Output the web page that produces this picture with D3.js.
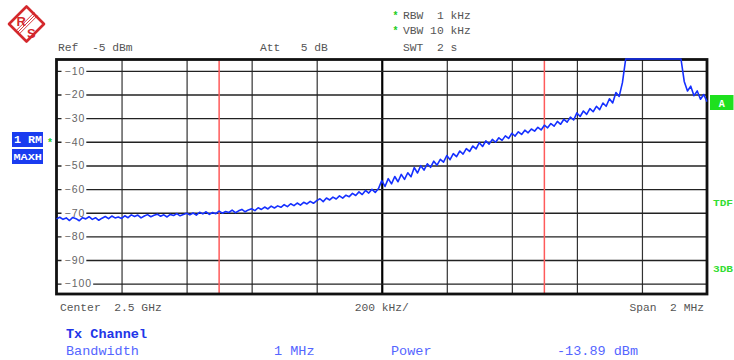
<!DOCTYPE html>
<html><head><meta charset="utf-8">
<script src="https://cdn.jsdelivr.net/npm/d3@7"></script>
<style>
body{margin:0;background:#fff}
svg{display:block}
text{white-space:pre}
</style>
</head><body>
<svg id="c" width="734" height="360"></svg>
<script>
// ---- data ----
const spanKHz = 2000;                     // span 2 MHz around centre
const levelTicks = [-10,-20,-30,-40,-50,-60,-70,-80,-90,-100];
const freqTicks = [-1000,-800,-600,-400,-200,0,200,400,600,800,1000]; // kHz offsets, 200 kHz/div
const channelEdges = [-500, 500];         // Tx channel 1 MHz bandwidth
const refLevel = -5, bottomLevel = -105;
// trace (dBm), equally spaced over the span, values above ref level are clipped
const traceDbm = [
 -72.6,-71.9,-72.8,-72.2,-73.3,-72.0,-72.5,-73.4,-72.1,-72.6,
 -71.7,-72.8,-72.1,-73.2,-72.3,-71.6,-72.5,-71.4,-72.2,-71.8,
 -72.4,-71.3,-72.1,-70.9,-71.6,-71.0,-72.2,-71.4,-70.8,-71.7,
 -71.1,-70.6,-71.5,-70.9,-71.8,-70.7,-71.2,-70.4,-71.3,-70.8,
 -70.2,-70.9,-70.1,-71.0,-69.8,-70.5,-69.6,-70.7,-69.9,-70.4,
 -69.3,-70.2,-69.5,-69.9,-68.9,-70.0,-69.2,-68.6,-69.6,-68.8,
 -68.3,-69.1,-67.9,-68.6,-67.6,-68.4,-67.2,-68.0,-67.1,-67.7,
 -66.6,-67.4,-66.2,-67.0,-65.9,-66.8,-65.6,-66.3,-65.2,-66.0,
 -64.9,-64.1,-65.3,-63.8,-64.6,-63.4,-64.2,-62.9,-63.8,-62.6,
 -63.2,-61.8,-62.7,-61.2,-62.3,-60.6,-61.7,-60.1,-61.4,-59.8,
 -56.4,-58.9,-55.6,-57.8,-54.7,-56.9,-53.8,-55.9,-53.1,-54.8,
 -50.9,-53.2,-50.1,-52.0,-49.3,-50.8,-48.2,-49.9,-47.4,-48.6,
 -45.8,-47.6,-45.0,-46.3,-43.9,-45.2,-42.9,-44.1,-41.8,-43.0,
 -40.4,-42.0,-39.6,-41.0,-39.0,-40.2,-38.3,-39.4,-37.5,-38.6,
 -36.4,-37.6,-35.8,-36.9,-35.1,-36.2,-34.6,-35.5,-33.9,-35.0,
 -33.0,-34.1,-32.3,-33.4,-31.4,-32.6,-30.5,-31.7,-29.6,-30.8,
 -27.8,-29.3,-27.0,-28.4,-26.0,-27.3,-25.0,-26.4,-23.6,-25.0,
 -21.8,-23.6,-19.2,-20.8,-15.0,1.5,2.8,1.9,3.1,2.2,
 2.7,1.6,3.0,2.1,2.9,1.8,2.6,3.2,2.0,2.5,
 1.7,2.4,2.0,-14.5,-18.5,-16.5,-20.5,-18.5,-22.0,-20.0,
 -23.0
];
const headerTexts = ["Ref  -5 dBm","Att   5 dB","SWT  2 s","RBW  1 kHz","VBW 10 kHz"];
const footerTexts = ["Center  2.5 GHz","200 kHz/","Span  2 MHz"];
const tableLabels = ["Bandwidth","1 MHz","Power","-13.89 dBm"];

// ---- drawing ----
const svg = d3.select("#c");
const X0 = 56.5, X1 = 707, Y0 = 59, Y1 = 294;
const x = d3.scaleLinear().domain([-spanKHz/2, spanKHz/2]).range([X0, X1]);
const y = d3.scaleLinear().domain([bottomLevel, refLevel]).range([295.5, Y0]).clamp(true);
const mono = "'Liberation Mono', 'DejaVu Sans Mono', monospace";

svg.append("rect").attr("width",734).attr("height",360).attr("fill","#fff");

// logo
const lg = svg.append("g");
lg.append("path").attr("d","M26.5,6.5 L44,24 L26.5,41.5 L9,24 Z")
  .attr("fill","#fff").attr("stroke","#d4282c").attr("stroke-width",2.6).attr("stroke-linejoin","round");
[-1.6,0,1.6].forEach(o=>{
  lg.append("line").attr("x1",17+o).attr("y1",33+o).attr("x2",36+o).attr("y2",14+o)
    .attr("stroke","#d4282c").attr("stroke-width",0.9);
});
lg.append("text").attr("x",16.5).attr("y",25.5).text("R").attr("font-family","'Liberation Sans',sans-serif")
  .attr("font-size",13).attr("font-weight","bold").attr("fill","#d4282c");
lg.append("text").attr("x",27).attr("y",38).text("S").attr("font-family","'Liberation Sans',sans-serif")
  .attr("font-size",13).attr("font-weight","bold").attr("fill","#d4282c");

// header
const hdr = svg.append("g").attr("font-family",mono).attr("font-size",11.3).attr("fill","#555");
hdr.append("text").attr("x",58).attr("y",51).text(headerTexts[0]);
hdr.append("text").attr("x",260).attr("y",51).text(headerTexts[1]);
hdr.append("text").attr("x",403).attr("y",51).text(headerTexts[2]);
hdr.append("text").attr("x",403).attr("y",19).text(headerTexts[3]);
hdr.append("text").attr("x",403).attr("y",34).text(headerTexts[4]);
[19,34].forEach(yy=>svg.append("text").attr("x",392.5).attr("y",yy).text("*")
  .attr("font-family",mono).attr("font-size",10).attr("font-weight","bold").attr("fill","#22cc22"));

// vertical grid
const gx = svg.append("g").attr("transform",`translate(0,${Y1})`)
  .call(d3.axisBottom(x).tickValues(freqTicks.slice(1,-1)).tickSize(-(Y1-Y0)).tickFormat(""));
gx.select(".domain").remove();
gx.selectAll(".tick line").attr("stroke",d=>d===0?"#000":"#333")
  .attr("stroke-width",d=>d===0?2.2:1.2);

// horizontal grid
const gy = svg.append("g").attr("transform",`translate(${X0},0)`)
  .call(d3.axisLeft(y).tickValues(levelTicks).tickSize(-(X1-X0)).tickFormat(""));
gy.select(".domain").remove();
gy.selectAll(".tick line").attr("stroke","#222").attr("stroke-width",1.4);

// level labels
const fmt = d3.format("d");
const lab = svg.append("g").selectAll("g").data(levelTicks).join("g")
  .attr("transform",d=>`translate(0,${y(d)})`);
const lt = lab.append("text").attr("x",64.5).attr("dy","0.36em").text(d=>fmt(d))
  .attr("font-family","'Liberation Sans',sans-serif").attr("font-size",10.5)
  .attr("letter-spacing",1).attr("fill","#666");
lab.insert("rect","text").attr("x",61.5).attr("y",-5.5).attr("height",11)
  .attr("width",function(d,i){return lt.nodes()[i].getComputedTextLength()+4;})
  .attr("fill","#fff");

// channel edges
svg.append("g").selectAll("line").data(channelEdges).join("line")
  .attr("x1",d=>x(d)).attr("x2",d=>x(d)).attr("y1",Y0).attr("y2",Y1)
  .attr("stroke","#ff5a5a").attr("stroke-width",1.5);

// frame
svg.append("rect").attr("x",X0).attr("y",Y0+0.5).attr("width",X1-X0).attr("height",Y1-Y0-0.5)
  .attr("fill","none").attr("stroke","#111").attr("stroke-width",2.8);

// trace
const n = traceDbm.length;
const line = d3.line().x((d,i)=>x(-spanKHz/2 + i*spanKHz/(n-1))).y(d=>y(d));
svg.append("path").datum(traceDbm).attr("d",line).attr("fill","none")
  .attr("stroke","#1530ff").attr("stroke-width",1.6).attr("stroke-linejoin","round");

// footer
const ft = svg.append("g").attr("font-family",mono).attr("font-size",11.3).attr("fill","#555");
ft.append("text").attr("x",60).attr("y",311).text(footerTexts[0]);
ft.append("text").attr("x",x(0)).attr("y",311).attr("text-anchor","middle").text(footerTexts[1]);
ft.append("text").attr("x",704).attr("y",311).attr("text-anchor","end").text(footerTexts[2]);

svg.append("text").attr("x",66).attr("y",338).text("Tx Channel").attr("font-family",mono)
  .attr("font-size",13.5).attr("font-weight","bold").attr("fill","#2236e8");
const tx = [66,274,391,557];
svg.append("g").selectAll("text").data(tableLabels).join("text")
  .attr("x",(d,i)=>tx[i]).attr("y",355).text(d=>d)
  .attr("font-family",mono).attr("font-size",13.5).attr("fill","#5566ff");

// side annotations
svg.append("rect").attr("x",12).attr("y",132).attr("width",31).attr("height",15).attr("fill","#1a3cf0");
svg.append("text").attr("x",14).attr("y",143).text("1 RM").attr("font-family",mono)
  .attr("font-size",10).attr("font-weight","bold").attr("fill","#fff").attr("textLength",28).attr("lengthAdjust","spacingAndGlyphs");
svg.append("rect").attr("x",12).attr("y",149).attr("width",31).attr("height",15).attr("fill","#1a3cf0");
svg.append("text").attr("x",13.5).attr("y",160).text("MAXH").attr("font-family",mono)
  .attr("font-size",9.5).attr("font-weight","bold").attr("fill","#fff").attr("textLength",28.5).attr("lengthAdjust","spacingAndGlyphs");
svg.append("text").attr("x",47).attr("y",146).text("*").attr("font-family",mono)
  .attr("font-size",10).attr("font-weight","bold").attr("fill","#22cc22");

svg.append("rect").attr("x",710).attr("y",95).attr("width",23.5).attr("height",15).attr("fill","#1ee01e");
svg.append("text").attr("x",721.8).attr("y",106.5).attr("text-anchor","middle").text("A")
  .attr("font-family",mono).attr("font-size",10).attr("font-weight","bold").attr("fill","#fff");
svg.append("text").attr("x",713).attr("y",205.5).text("TDF").attr("font-family",mono)
  .attr("font-size",8.5).attr("font-weight","bold").attr("fill","#33dd33").attr("textLength",20).attr("lengthAdjust","spacingAndGlyphs");
svg.append("text").attr("x",713).attr("y",271.5).text("3DB").attr("font-family",mono)
  .attr("font-size",8.5).attr("font-weight","bold").attr("fill","#33dd33").attr("textLength",20).attr("lengthAdjust","spacingAndGlyphs");
</script>
</body></html>
